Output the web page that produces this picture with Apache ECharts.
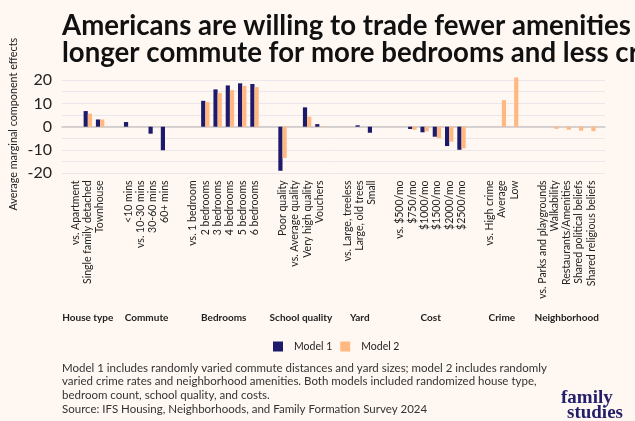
<!DOCTYPE html>
<html>
<head>
<meta charset="utf-8">
<script src="https://cdn.jsdelivr.net/npm/echarts@6/dist/echarts.min.js"></script>
<style>
html,body{margin:0;padding:0;background:#fff8f2;}
#chart{width:635px;height:421px;}
</style>
</head>
<body>
<div id="chart"></div>
<script>
// ---- data ----
const facetNames = ['House type','Commute','Bedrooms','School quality','Yard','Cost','Crime','Neighborhood'];
const houseCats = ['vs. Apartment','Single family detached','Townhouse'];
const commuteCats = ['<10 mins','vs. 10-30 mins','30-60 mins','60+ mins'];
const bedroomCats = ['vs. 1 bedroom','2 bedrooms','3 bedrooms','4 bedrooms','5 bedrooms','6 bedrooms'];
const schoolCats = ['Poor quality','vs. Average quality','Very high quality','Vouchers'];
const yardCats = ['vs. Large, treeless','Large, old trees','Small'];
const costCats = ['vs. $500/mo','$750/mo','$1000/mo','$1500/mo','$2000/mo','$2500/mo'];
const crimeCats = ['vs. High crime','Average','Low'];
const neighborhoodCats = ['vs. Parks and playgrounds','Walkability','Restaurants/Amenities','Shared political beliefs','Shared religious beliefs'];

const house1 = [null, 6.7, 3.1];           const house2 = [null, 5.6, 3.1];
const commute1 = [2.0, null, -3.0, -10.1];  const commute2 = [null, null, null, null];
const bedroom1 = [null, 11.1, 16.0, 17.7, 18.6, 18.3];
const bedroom2 = [null, 10.6, 14.5, 15.7, 17.5, 17.0];
const school1 = [-18.9, null, 8.3, 1.1];    const school2 = [-13.4, null, 4.3, 0.2];
const yard1 = [null, 0.6, -2.6];            const yard2 = [null, null, null];
const cost1 = [null, -1.0, -2.4, -4.3, -8.3, -9.9];
const cost2 = [null, -1.3, -2.0, -4.9, -6.4, -9.3];
const crime1 = [null, null, null];          const crime2 = [null, 11.4, 21.1];
const neighborhood1 = [null, null, null, null, null];
const neighborhood2 = [null, -0.9, -1.3, -1.7, -1.9];

const yTicks = [-20, -10, 0, 10, 20];

const facetCats = [houseCats, commuteCats, bedroomCats, schoolCats, yardCats, costCats, crimeCats, neighborhoodCats];
const facetM1 = [house1, commute1, bedroom1, school1, yard1, cost1, crime1, neighborhood1];
const facetM2 = [house2, commute2, bedroom2, school2, yard2, cost2, crime2, neighborhood2];

// ---- layout ----
const C1 = '#1d1a6c', C2 = '#ffb882';
const FONT = 'Lato';
const u = 12.29, gap = 1, plotLeft = 62, plotRight = 605;
const zeroY = 126.7, s = 2.332;
const yMinF = -20.9, yMaxF = 23.1;
const bgTop = zeroY - 20 * s, bgH = 40 * s;
const fTop = zeroY - yMaxF * s, fH = (yMaxF - yMinF) * s;

const grids = [{left: plotLeft, top: bgTop, width: plotRight - plotLeft, height: bgH}];
const xAxes = [{
  gridIndex: 0, type: 'value', min: 0, max: 1,
  axisLine: {show: true, onZero: true, lineStyle: {color: '#cbc6c6', width: 1.5}},
  axisLabel: {show: false}, axisTick: {show: false}, splitLine: {show: false}
}];
const yAxes = [{
  gridIndex: 0, type: 'value', min: -20, max: 20, interval: 5,
  axisLabel: {formatter: v => yTicks.indexOf(v) >= 0 ? String(v) : '', fontSize: 16, color: '#222', margin: 10, fontFamily: FONT},
  splitLine: {lineStyle: {color: '#ebe6ea', width: 1}},
  axisLine: {show: false}, axisTick: {show: false}
}];
const series = [];
let start = plotLeft;
facetCats.forEach((cats, k) => {
  const n = cats.length;
  grids.push({left: start + 0.6 * u, top: fTop, width: n * u, height: fH});
  xAxes.push({
    gridIndex: k + 1, type: 'category', data: cats, boundaryGap: true,
    axisLine: {show: false, onZero: false}, axisTick: {show: false}, splitLine: {show: false},
    axisLabel: {rotate: 90, interval: 0, fontSize: 10.5, color: '#222', margin: 5, fontFamily: FONT},
    name: facetNames[k], nameLocation: 'middle', nameGap: 137,
    nameTextStyle: {fontWeight: 'bold', fontSize: 10, color: '#222', fontFamily: FONT}
  });
  const ya = {gridIndex: k + 1, type: 'value', min: yMinF, max: yMaxF,
    axisLine: {show: false}, axisTick: {show: false}, axisLabel: {show: false}, splitLine: {show: false}};
  if (k === 0) {
    ya.name = 'Average marginal component effects';
    ya.nameLocation = 'middle';
    ya.nameGap = 50;
    ya.nameTextStyle = {fontSize: 10.8, color: '#222', fontFamily: FONT};
  }
  yAxes.push(ya);
  series.push({type: 'bar', name: 'Model 1', xAxisIndex: k + 1, yAxisIndex: k + 1, data: facetM1[k],
    barWidth: 4.2, barGap: '0%', itemStyle: {color: C1}, emphasis: {disabled: true}});
  series.push({type: 'bar', name: 'Model 2', xAxisIndex: k + 1, yAxisIndex: k + 1, data: facetM2[k],
    barWidth: 4.2, barGap: '0%', itemStyle: {color: C2}, emphasis: {disabled: true}});
  start += (n + 1.2) * u + gap;
});

const chart = echarts.init(document.getElementById('chart'), null, {renderer: 'canvas'});
chart.setOption({
  backgroundColor: '#fff8f2',
  animation: false,
  title: {
    text: 'Americans are willing to trade fewer amenities and a\nlonger commute for more bedrooms and less crime',
    left: 62, top: 13, padding: 0,
    textStyle: {fontFamily: FONT, fontWeight: 'bold', fontSize: 27.6, lineHeight: 27, color: '#111'}
  },
  legend: {
    data: ['Model 1', 'Model 2'], left: 268, top: 336, itemWidth: 10, itemHeight: 10, itemGap: 8,
    icon: 'rect',
    textStyle: {fontFamily: FONT, fontSize: 10.5, color: '#222', padding: [0, 0, 0, 6]}
  },
  grid: grids, xAxis: xAxes, yAxis: yAxes, series: series,
  graphic: [
    {type: 'text', left: 62, top: 361, style: {
      text: 'Model 1 includes randomly varied commute distances and yard sizes; model 2 includes randomly\nvaried crime rates and neighborhood amenities. Both models included randomized house type,\nbedroom count, school quality, and costs.\nSource: IFS Housing, Neighborhoods, and Family Formation Survey 2024',
      font: '11.5px Lato', lineHeight: 13.7, fill: '#333'}},
    {type: 'text', left: 561, top: 389, style: {text: 'family', font: 'bold 19px "Liberation Serif"', fill: '#231f6b'}},
    {type: 'text', left: 567, top: 404, style: {text: 'studies', font: 'bold 19px "Liberation Serif"', fill: '#231f6b'}}
  ]
});
</script>
</body>
</html>
